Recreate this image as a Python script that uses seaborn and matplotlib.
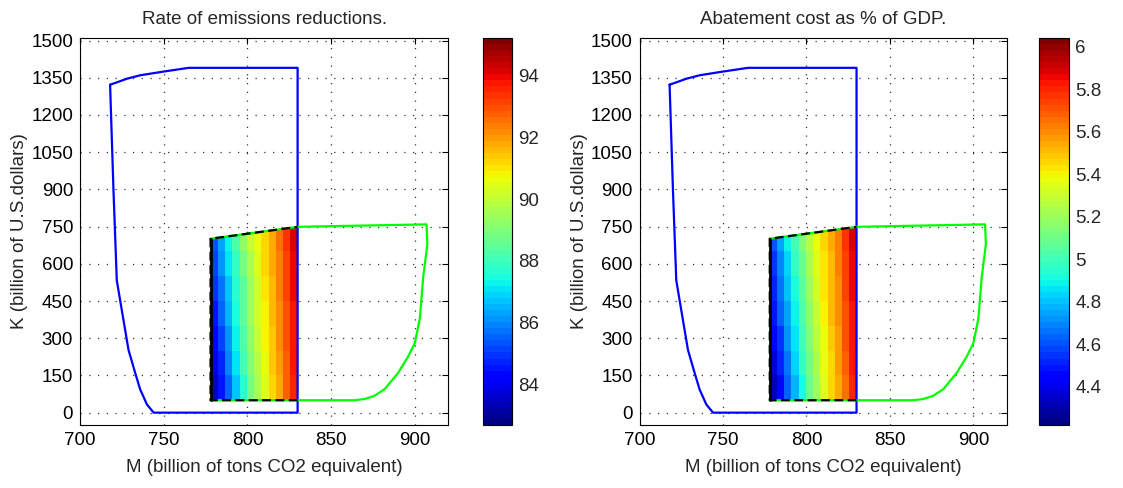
import numpy as np
import pandas as pd
import matplotlib
matplotlib.use("Agg")
import matplotlib.pyplot as plt
import matplotlib.ticker as mticker
import seaborn as sns

# ---------------- data ----------------
titles = ["Rate of emissions reductions.", "Abatement cost as % of GDP."]
xlabel = "M (billion of tons CO2 equivalent)"
ylabel = "K (billion of U.S.dollars)"

# blue boundary (M, K)
blue_M = [718, 721, 728, 736, 750, 765, 830, 830, 744, 740, 736, 733, 729, 722, 720, 718]
blue_K = [1322, 1329, 1346, 1360, 1375, 1390, 1390, 0, 0, 33, 93, 160, 253, 533, 900, 1322]

# green boundary (M, K)
green_M = [778, 864, 870, 876, 882, 890, 896, 900, 903, 905, 907.5, 907, 830, 778]
green_K = [50, 50, 55, 68, 95, 160, 226, 280, 380, 546, 680, 759, 749, 701]

# feasible-region grid: column edges in M, row edges in K, top edge per column edge
grid_M = [778.0, 782.3, 786.7, 791.0, 795.3, 799.7, 804.0, 808.3, 812.7, 817.0, 821.3, 825.7, 830.0]
grid_K = [50, 150, 250, 350, 450, 550, 650]
top_K = [701, 705, 709, 713, 717, 721, 725, 729, 733, 737, 741, 745, 749]

# rate of emissions reductions (rows bottom -> top, columns left -> right)
rate_vals = [
    [83.5, 84.5, 85.6, 86.7, 87.7, 88.9, 89.6, 90.4, 91.2, 91.8, 92.7, 93.6],
    [83.9, 84.8, 85.9, 87.0, 88.0, 89.1, 89.8, 90.6, 91.3, 91.9, 92.8, 93.7],
    [84.3, 85.1, 86.2, 87.2, 88.2, 89.3, 90.0, 90.8, 91.4, 92.1, 92.9, 93.8],
    [84.6, 85.5, 86.5, 87.4, 88.4, 89.4, 90.2, 90.9, 91.5, 92.2, 93.0, 93.8],
    [84.9, 85.8, 86.8, 87.6, 88.5, 89.5, 90.3, 91.0, 91.6, 92.3, 93.1, 93.9],
    [85.1, 86.1, 87.0, 87.9, 88.8, 89.7, 90.5, 91.1, 91.7, 92.4, 93.2, 94.0],
    [85.3, 86.4, 87.3, 88.2, 89.2, 90.0, 90.7, 91.2, 91.8, 92.5, 93.3, 94.1],
]
# abatement cost as % of GDP
cost_vals = [
    [4.33, 4.47, 4.62, 4.78, 4.93, 5.08, 5.20, 5.33, 5.45, 5.54, 5.67, 5.80],
    [4.39, 4.51, 4.67, 4.83, 4.97, 5.12, 5.23, 5.36, 5.47, 5.56, 5.69, 5.82],
    [4.45, 4.56, 4.72, 4.86, 5.00, 5.15, 5.26, 5.38, 5.48, 5.58, 5.70, 5.83],
    [4.49, 4.62, 4.76, 4.89, 5.03, 5.17, 5.29, 5.40, 5.50, 5.60, 5.72, 5.84],
    [4.53, 4.66, 4.80, 4.92, 5.05, 5.19, 5.31, 5.42, 5.51, 5.61, 5.73, 5.85],
    [4.56, 4.70, 4.84, 4.96, 5.09, 5.22, 5.33, 5.43, 5.52, 5.62, 5.74, 5.86],
    [4.59, 4.75, 4.88, 5.00, 5.14, 5.27, 5.37, 5.45, 5.54, 5.64, 5.76, 5.88],
]
clims = [(82.7, 95.2), (4.22, 6.04)]
cticks = [[84, 86, 88, 90, 92, 94], [4.4, 4.6, 4.8, 5.0, 5.2, 5.4, 5.6, 5.8, 6.0]]
x_ticks = [700, 750, 800, 850, 900]
y_ticks = [0, 150, 300, 450, 600, 750, 900, 1050, 1200, 1350, 1500]

# ---------------- style ----------------
sns.set_style("white")
plt.rcParams['font.family'] = ['Liberation Sans', 'DejaVu Sans']
FS = 13.5
plt.rcParams['font.size'] = FS

fig = plt.figure(figsize=(11.23, 4.88), dpi=100)
ax_pos = [[0.0712, 0.129, 0.328, 0.793], [0.5695, 0.129, 0.327, 0.793]]
cb_pos = [[0.4305, 0.129, 0.025, 0.793], [0.9255, 0.129, 0.026, 0.793]]

cmap = plt.get_cmap('jet', 64)

blue_df = pd.DataFrame({"M": blue_M, "K": blue_K})
green_df = pd.DataFrame({"M": green_M, "K": green_K})

# mesh coordinates
Xe = np.tile(np.array(grid_M), (len(grid_K) + 1, 1))
Ye = np.vstack([np.array([[k] * len(grid_M) for k in grid_K]), np.array(top_K)[None, :]])

for i, vals in enumerate([rate_vals, cost_vals]):
    ax = fig.add_axes(ax_pos[i])
    mesh = ax.pcolormesh(Xe, Ye, np.array(vals), cmap=cmap, vmin=clims[i][0], vmax=clims[i][1],
                         shading='flat', zorder=1)
    sns.lineplot(data=blue_df, x="M", y="K", sort=False, estimator=None, color="#0000ff",
                 linewidth=1.6, ax=ax, zorder=3)
    sns.lineplot(data=green_df, x="M", y="K", sort=False, estimator=None, color="#00ff00",
                 linewidth=1.6, ax=ax, zorder=3)
    # outline of the coloured region
    ax.plot([grid_M[-1], grid_M[0], grid_M[0], grid_M[-1]],
            [grid_K[0], grid_K[0], top_K[0], top_K[-1]], color="black", linewidth=1.6,
            linestyle=(0, (4, 2)), zorder=4)
    ax.plot([grid_M[0], grid_M[0]], [grid_K[0], top_K[0]], color="black", linewidth=2, zorder=4)

    ax.set_xlim(700, 920)
    ax.set_ylim(-50, 1510)
    ax.set_xticks(x_ticks)
    ax.set_yticks(y_ticks)
    ax.grid(True, linestyle=(0, (1, 6)), color="black", linewidth=0.9, alpha=0.8)
    ax.tick_params(direction="in", top=True, right=True, length=4, width=0.8,
                   labelsize=FS, colors="black", pad=5)
    for s in ax.spines.values():
        s.set_color("black")
        s.set_linewidth(0.8)
    ax.set_xlabel(xlabel, fontsize=FS, labelpad=7)
    ax.set_ylabel(ylabel, fontsize=FS, labelpad=2)
    ax.set_title(titles[i], fontsize=FS, pad=10)

    cax = fig.add_axes(cb_pos[i])
    cb = fig.colorbar(mesh, cax=cax)
    cb.set_ticks(cticks[i])
    cb.ax.yaxis.set_major_formatter(mticker.FormatStrFormatter('%g'))
    cb.ax.tick_params(direction="in", left=True, right=True, length=4, width=0.8,
                      labelsize=FS, pad=5)
    cb.outline.set_linewidth(0.8)
    cb.outline.set_edgecolor("black")

fig.savefig("out.png", dpi=100)
